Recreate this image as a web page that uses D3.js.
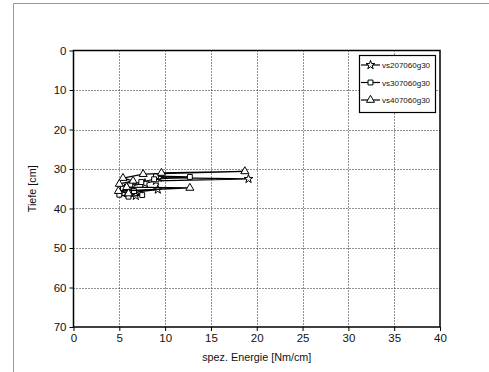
<!DOCTYPE html>
<html>
<head>
<meta charset="utf-8">
<script src="https://cdn.jsdelivr.net/npm/d3@7"></script>
<style>
  html, body { margin: 0; padding: 0; background: #fff; }
  svg { display: block; font-family: "Liberation Sans", Arial, sans-serif; }
</style>
</head>
<body>
<svg id="chart" width="489" height="372"></svg>
<script>
// Specific energy [Nm/cm] and depth [cm] for each penetration run
const seriesNames = ["vs207060g30", "vs307060g30", "vs407060g30"];

const starEnergy = [9.3, 19.1, 9.0, 7.8, 6.4, 5.6, 6.2, 9.2, 5.4, 6.8];
const starDepth  = [32.2, 32.5, 33.0, 33.6, 34.2, 34.9, 35.5, 35.2, 36.2, 36.8];

const squareEnergy = [9.0, 12.7, 8.8, 7.4, 6.2, 5.4, 6.6, 7.5, 6.0, 5.0];
const squareDepth  = [31.8, 32.0, 32.6, 33.3, 34.0, 34.8, 35.6, 36.6, 37.0, 36.5];

const triangleEnergy = [9.6, 18.7, 7.6, 5.4, 6.5, 5.0, 5.8, 12.7, 4.9, 6.0];
const triangleDepth  = [31.0, 30.6, 31.3, 32.3, 33.0, 33.8, 34.6, 34.8, 35.6, 36.2];

const xTicks = [0, 5, 10, 15, 20, 25, 30, 35, 40];
const yTicks = [0, 10, 20, 30, 40, 50, 60, 70];

const svg = d3.select("#chart");

// outer gray frame
svg.append("path")
  .attr("d", "M13.5,372 V3.5 H489")
  .attr("fill", "none").attr("stroke", "#999").attr("stroke-width", 1);

const plotLeft = 73.5, plotRight = 440, plotTop = 50.5, plotBottom = 327;
const x = d3.scaleLinear().domain([0, 40]).range([plotLeft, plotRight]);
const y = d3.scaleLinear().domain([0, 70]).range([plotTop, plotBottom]);
const crisp = v => Math.round(v) + 0.5;

// dotted grid
const grid = svg.append("g");
grid.selectAll("line.vx").data(xTicks.slice(1, -1)).join("line")
  .attr("x1", d => crisp(x(d))).attr("x2", d => crisp(x(d))).attr("y1", plotTop).attr("y2", plotBottom)
  .attr("stroke", "#222").attr("stroke-width", 1).attr("stroke-dasharray", "1,2");
grid.selectAll("line.hy").data(yTicks.slice(1, -1)).join("line")
  .attr("y1", d => crisp(y(d))).attr("y2", d => crisp(y(d))).attr("x1", plotLeft).attr("x2", plotRight)
  .attr("stroke", "#222").attr("stroke-width", 1).attr("stroke-dasharray", "1,2");

// axes
const xAxis = d3.axisBottom(x).tickValues(xTicks).tickSize(4).tickPadding(3).tickFormat(d3.format("d"));
const yAxis = d3.axisLeft(y).tickValues(yTicks).tickSize(4).tickPadding(3).tickFormat(d3.format("d"));

const gx = svg.append("g").attr("transform", `translate(0,${plotBottom})`).call(xAxis);
const gy = svg.append("g").attr("transform", `translate(${plotLeft},0)`).call(yAxis);
[gx, gy].forEach(g => {
  g.select(".domain").remove();
  g.selectAll("text").attr("font-size", 11.5).attr("fill", "#111")
    .attr("font-family", "Liberation Sans, Arial, sans-serif");
  g.selectAll("line").attr("stroke", "#000").attr("stroke-width", 1);
});

// plot frame
svg.append("rect")
  .attr("x", plotLeft).attr("y", plotTop).attr("width", plotRight - plotLeft).attr("height", plotBottom - plotTop)
  .attr("fill", "none").attr("stroke", "#000").attr("stroke-width", 1.5);

// axis titles
svg.append("text").attr("x", (plotLeft + plotRight) / 2).attr("y", 361)
  .attr("text-anchor", "middle").attr("font-size", 10.8).attr("fill", "#111")
  .text("spez. Energie [Nm/cm]");
svg.append("text").attr("transform", `translate(36,${(plotTop + plotBottom) / 2}) rotate(-90)`)
  .attr("text-anchor", "middle").attr("font-size", 10.8).attr("fill", "#111")
  .text("Tiefe [cm]");

// marker shapes
const sym = {
  star: d3.symbol().type(d3.symbolStar).size(24),
  square: d3.symbol().type(d3.symbolSquare).size(24),
  triangle: d3.symbol().type(d3.symbolTriangle).size(28)
};

const series = [
  { name: seriesNames[0], xs: starEnergy, ys: starDepth, shape: "star" },
  { name: seriesNames[1], xs: squareEnergy, ys: squareDepth, shape: "square" },
  { name: seriesNames[2], xs: triangleEnergy, ys: triangleDepth, shape: "triangle" }
];

const line = d3.line().x(d => x(d[0])).y(d => y(d[1]));

series.forEach(s => {
  const pts = s.xs.map((v, i) => [v, s.ys[i]]);
  const g = svg.append("g");
  g.append("path").datum(pts).attr("d", line)
    .attr("fill", "none").attr("stroke", "#000").attr("stroke-width", 1.2);
  g.selectAll("path.m").data(pts).join("path").attr("class", "m")
    .attr("transform", d => `translate(${x(d[0])},${y(d[1])})`)
    .attr("d", sym[s.shape]())
    .attr("fill", "#fff").attr("stroke", "#000").attr("stroke-width", 1);
});

// legend
const lg = svg.append("g");
lg.append("rect").attr("x", 359.5).attr("y", 55.5).attr("width", 76).attr("height", 57)
  .attr("fill", "#fff").attr("stroke", "#000").attr("stroke-width", 1.2);
series.forEach((s, i) => {
  const ly = 65 + i * 17.5;
  lg.append("line").attr("x1", 361).attr("x2", 380).attr("y1", ly).attr("y2", ly)
    .attr("stroke", "#000").attr("stroke-width", 1.2);
  lg.append("path").attr("transform", `translate(370.5,${ly})`).attr("d", sym[s.shape]())
    .attr("fill", "#fff").attr("stroke", "#000").attr("stroke-width", 1);
  lg.append("text").attr("x", 382).attr("y", ly + 3).attr("font-size", 8).attr("fill", "#111")
    .text(s.name);
});
</script>
</body>
</html>
